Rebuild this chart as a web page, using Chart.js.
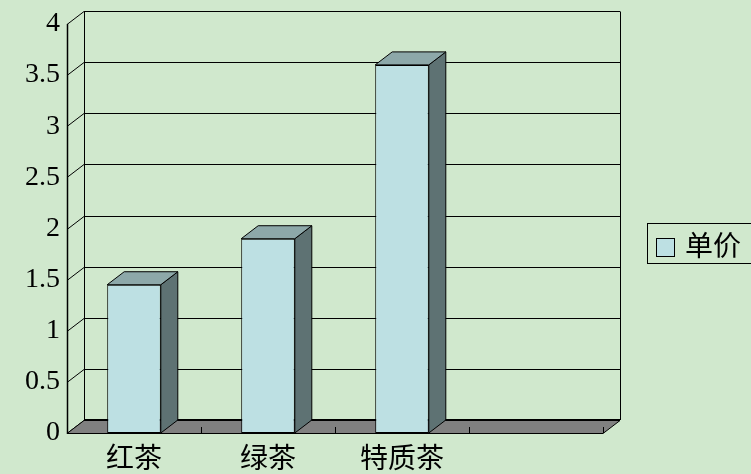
<!DOCTYPE html>
<html>
<head>
<meta charset="utf-8">
<script src="https://cdn.jsdelivr.net/npm/chart.js@4"></script>
<style>
  html, body { margin: 0; padding: 0; background: #d0e8cd; }
  #wrap { width: 751px; height: 474px; }
</style>
</head>
<body>
<div id="wrap"><canvas id="teaChart" width="751" height="474"></canvas></div>
<script>
/* ---- data ---- */
const categories = ['红茶', '绿茶', '特质茶', ''];
const seriesName = '单价';
const prices = [1.45, 1.9, 3.6, null];
const yTicks = [0, 0.5, 1, 1.5, 2, 2.5, 3, 3.5, 4];

/* depth of the fake 3D box */
const DX = 17, DY = 13;

const COLORS = {
  bg: '#d0e8cd',
  front: '#bde0e3',
  side: '#5e7273',
  top: '#8da8a9',
  floor: '#808080',
  line: '#000',
};

function seg(ctx, x1, y1, x2, y2) {
  ctx.beginPath();
  ctx.moveTo(x1, y1);
  ctx.lineTo(x2, y2);
  ctx.stroke();
}

function poly(ctx, pts, fill) {
  ctx.beginPath();
  ctx.moveTo(pts[0][0], pts[0][1]);
  for (let i = 1; i < pts.length; i++) ctx.lineTo(pts[i][0], pts[i][1]);
  ctx.closePath();
  ctx.fillStyle = fill;
  ctx.fill();
  ctx.stroke();
}

/* back walls, floor and the side/top faces of the columns */
const box3d = {
  id: 'box3d',
  beforeDraw(chart) {
    const { ctx, width, height } = chart;
    ctx.save();
    ctx.fillStyle = COLORS.bg;
    ctx.fillRect(0, 0, width, height);
    ctx.restore();
  },
  beforeDatasetsDraw(chart) {
    const { ctx, chartArea: a, scales: { y } } = chart;
    const L = a.left, R = a.right, B = a.bottom;
    ctx.save();
    ctx.strokeStyle = COLORS.line;
    ctx.lineWidth = 1;

    // gridlines on the back wall + diagonals on the left wall
    yTicks.forEach(v => {
      const yf = Math.round(y.getPixelForValue(v)) + 0.5;
      const yb = yf - DY;
      if (v > 0) seg(ctx, L + DX, yb, R + DX, yb);
      seg(ctx, L, yf, L + DX, yb);
    });

    // back wall edges
    const top = Math.round(y.getPixelForValue(4)) + 0.5 - DY;
    seg(ctx, L + DX + 0.5, top, L + DX + 0.5, B - DY);
    seg(ctx, R + DX + 0.5, top, R + DX + 0.5, B - DY);

    // floor
    poly(ctx, [[L, B + 0.5], [R, B + 0.5], [R + DX, B - DY + 0.5], [L + DX, B - DY + 0.5]], COLORS.floor);
    ctx.lineWidth = 2;
    seg(ctx, L + DX, B - DY, R + DX, B - DY);
    ctx.lineWidth = 1;

    // category ticks on the floor
    const slot = (R - L) / categories.length;
    for (let k = 1; k <= categories.length; k++) {
      const xx = Math.round(L + k * slot) + 0.5;
      seg(ctx, xx, B, xx, B - 6);
    }

    // front value axis
    ctx.lineWidth = 1.5;
    seg(ctx, L + 0.5, Math.round(y.getPixelForValue(4)), L + 0.5, B + 1);
    ctx.restore();
  },
  afterDatasetsDraw(chart) {
    const { ctx } = chart;
    const meta = chart.getDatasetMeta(0);
    ctx.save();
    ctx.strokeStyle = COLORS.line;
    ctx.lineWidth = 1;
    ctx.lineJoin = 'round';
    meta.data.forEach((bar, i) => {
      if (prices[i] == null) return;
      const l = bar.x - bar.width / 2, r = bar.x + bar.width / 2;
      const t = bar.y, b = bar.base;
      poly(ctx, [[r, t], [r + DX, t - DY], [r + DX, b - DY], [r, b]], COLORS.side);
      poly(ctx, [[l, t], [r, t], [r + DX, t - DY], [l + DX, t - DY]], COLORS.top);
    });
    ctx.restore();
  },
  afterDraw(chart) {
    // legend box on the right
    const { ctx } = chart;
    ctx.save();
    ctx.strokeStyle = COLORS.line;
    ctx.lineWidth = 1;
    ctx.strokeRect(647.5, 223.5, 120, 40);
    ctx.fillStyle = COLORS.front;
    ctx.fillRect(657, 239, 17, 17);
    ctx.strokeRect(656.5, 238.5, 18, 18);
    ctx.fillStyle = '#000';
    ctx.font = '28px "Noto Sans CJK SC"';
    ctx.textBaseline = 'middle';
    ctx.fillText(seriesName, 685, 245);
    ctx.restore();
  }
};

new Chart(document.getElementById('teaChart'), {
  type: 'bar',
  data: {
    labels: categories,
    datasets: [{
      label: seriesName,
      data: prices,
      backgroundColor: COLORS.front,
      borderColor: COLORS.line,
      borderWidth: 1,
      borderSkipped: false,
      categoryPercentage: 1,
      barPercentage: 0.4,
    }]
  },
  options: {
    responsive: false,
    animation: false,
    layout: { padding: { top: 24, right: 148, left: 0, bottom: 0 } },
    plugins: { legend: { display: false }, tooltip: { enabled: false } },
    scales: {
      x: {
        grid: { display: false, drawTicks: false },
        border: { display: false },
        ticks: { color: '#000', padding: 8, font: { family: '"Noto Sans CJK SC"', size: 28 }, maxRotation: 0 },
        afterFit: s => { s.height = 41; },
      },
      y: {
        min: 0, max: 4,
        grid: { display: false, drawTicks: false },
        border: { display: false },
        ticks: {
          stepSize: 0.5, color: '#000', padding: 7,
          font: { family: '"Liberation Serif"', size: 28 },
          callback: v => String(v),
        },
        afterFit: s => { s.width = 67; },
      }
    }
  },
  plugins: [box3d]
});
</script>
</body>
</html>
